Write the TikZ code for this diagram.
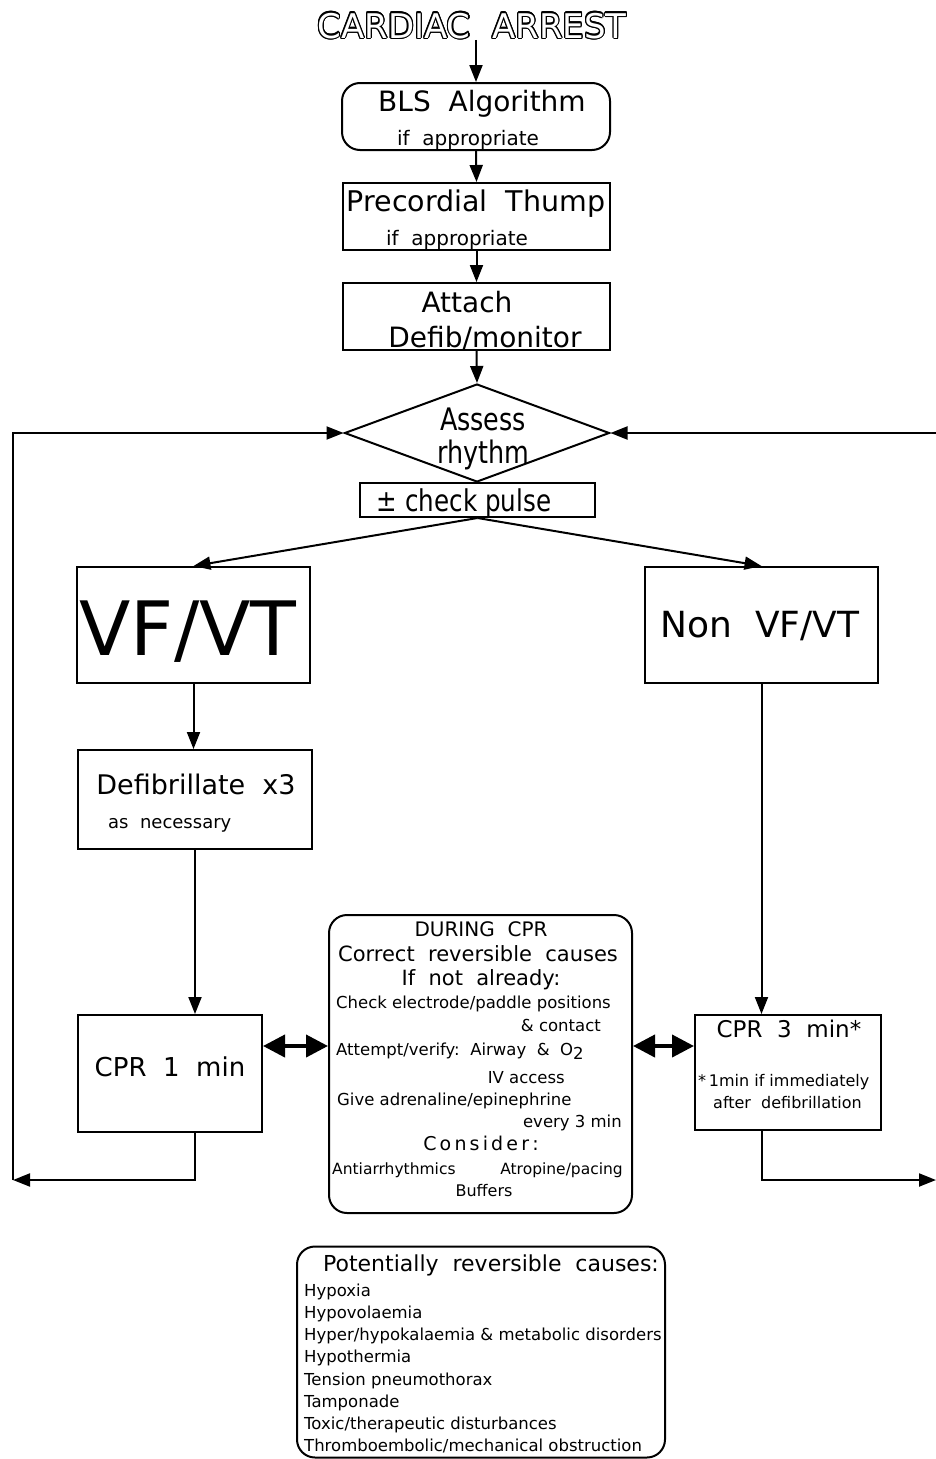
\documentclass[tikz,border=0pt]{standalone}
\usepackage{fontspec}
\setmainfont{DejaVu Sans}
\newfontfamily\narrowfont[FakeStretch=0.82]{DejaVu Sans}
\usepackage{contour}
\contourlength{1.1pt}
\usetikzlibrary{arrows.meta,shapes.geometric,positioning}
\newcommand\fs[1]{\fontsize{#1}{#1}\selectfont}

\begin{document}
\begin{tikzpicture}[x=1pt,y=-1pt]
        \tikzstyle{box}=[draw,line width=2pt,inner sep=0pt]
        \tikzstyle{rbox}=[box,rounded corners=18pt]
        \tikzstyle{txt}=[inner sep=0pt,anchor=base]
        \tikzstyle{ltxt}=[inner sep=0pt,anchor=base west]
        \tikzstyle{rtxt}=[inner sep=0pt,anchor=base east]
        \tikzstyle{flow}=[line width=2pt,-{Triangle[length=17pt,width=13pt]}]
        \tikzstyle{link}=[line width=4pt,{Triangle[length=22pt,width=22pt]}-{Triangle[length=22pt,width=22pt]}]
       \useasboundingbox (0,0) rectangle (936,1459);
       % top of the chain
       \node [txt,font=\fs{34}] (title) at (472,38) {\color{white}\contour{black}{CARDIAC\ \ ARREST}};
       \node [rbox,minimum width=268pt,minimum height=67pt] (bls) at (476,116.5) {};
       \node [txt,font=\fs{28}] (bls1) at (482,111) {BLS\ \ Algorithm};
       \node [txt,font=\fs{20}] (bls2) at (468,145) {if\ \ appropriate};
       \node [box,minimum width=267pt,minimum height=67pt] (thump) at (476.5,216.5) {};
       \node [txt,font=\fs{28.5}] (thump1) at (476,211) {Precordial\ \ Thump};
       \node [txt,font=\fs{20}] (thump2) at (457,245) {if\ \ appropriate};
       \node [box,minimum width=267pt,minimum height=67pt] (attach) at (476.5,316.5) {};
       \node [txt,font=\fs{28}] (attach1) at (467,312) {Attach};
       \node [txt,font=\fs{28}] (attach2) at (485,347) {Defib/monitor};
       \node [diamond,box,minimum width=265pt,minimum height=98pt] (assess) at (477,433) {};
       \node [txt,font=\narrowfont\fs{31}] (assess1) at (483,430) {Assess};
       \node [txt,font=\narrowfont\fs{31}] (assess2) at (483,463) {rhythm};
       \node [box,minimum width=235pt,minimum height=34pt] (pulse) at (477.5,500) {};
       \node [txt,font=\narrowfont\fs{30}] (pulse1) at (464,511) {± check pulse};
       % two branches
       \node [box,minimum width=233pt,minimum height=116pt] (vf) at (193.5,625) {};
       \node [txt,font=\fs{75}] (vf1) at (188,655) {VF/VT};
       \node [box,minimum width=233pt,minimum height=116pt] (nonvf) at (761.5,625) {};
       \node [txt,font=\fs{36}] (nonvf1) at (760,637) {Non\ \ VF/VT};
       \node [box,minimum width=234pt,minimum height=99pt] (defib) at (195,799.5) {};
       \node [txt,font=\fs{27}] (defib1) at (196,794) {Defibrillate\ \ x3};
       \node [ltxt,font=\fs{18}] (defib2) at (108,828) {as\ \ necessary};
       \node [box,minimum width=184pt,minimum height=117pt] (cpr1) at (170,1073.5) {};
       \node [txt,font=\fs{26}] (cpr1t) at (170,1076) {CPR\ \ 1\ \ min};
       \node [box,minimum width=186pt,minimum height=115pt] (cpr3) at (788,1072.5) {};
       \node [txt,font=\fs{23}] (cpr3a) at (789,1037) {CPR\ \ 3\ \ min*};
       \node [ltxt,font=\fs{16}] (cpr3b) at (698,1086) {*\,1min if immediately};
       \node [ltxt,font=\fs{16}] (cpr3c) at (713,1108) {after\ \ defibrillation};
       % during CPR
       \node [rbox,minimum width=303pt,minimum height=298pt] (during) at (480.5,1064) {};
       \node [txt,font=\fs{20}] (dur1) at (481,936) {DURING\ \ CPR};
       \node [txt,font=\fs{21}] (dur2) at (478,961) {Correct\ \ reversible\ \ causes};
       \node [txt,font=\fs{21}] (dur3) at (481,985) {If\ \ not\ \ already:};
       \node [ltxt,font=\fs{16.5}] (dur4) at (336,1008) {Check electrode/paddle positions};
       \node [rtxt,font=\fs{16.5}] (dur5) at (601,1031) {\& contact};
       \node [ltxt,font=\fs{16.5}] (dur6) at (336,1055) {Attempt/verify:\ \ Airway\ \ \&\ \ O\raisebox{-4pt}{2}};
       \node [rtxt,font=\fs{16.5}] (dur7) at (565,1083) {IV access};
       \node [ltxt,font=\fs{16.5}] (dur8) at (337,1105) {Give adrenaline/epinephrine};
       \node [rtxt,font=\fs{16.5}] (dur9) at (622,1127) {every 3 min};
       \node [txt,font=\fs{19}] (dur10) at (481,1150) {C\,o\,n\,s\,i\,d\,e\,r\,:};
       \node [ltxt,font=\fs{15.5}] (dur11) at (332,1174) {Antiarrhythmics};
       \node [rtxt,font=\fs{15.5}] (dur12) at (623,1174) {Atropine/pacing};
       \node [txt,font=\fs{16}] (dur13) at (484,1196) {Buffers};
       % reversible causes list
       \node [rbox,minimum width=368pt,minimum height=211pt] (causes) at (481,1352) {};
       \node [txt,font=\fs{22}] (causes0) at (491,1271) {Potentially\ \ reversible\ \ causes:};
       \foreach \item [count=\i] in {Hypoxia,Hypovolaemia,Hyper/hypokalaemia \& metabolic disorders,Hypothermia,Tension pneumothorax,Tamponade,Toxic/therapeutic disturbances,Thromboembolic/mechanical obstruction}
         \node [ltxt,font=\fs{16.5}] (causes\i) at (304,1274+22.2*\i) {\item};
       % loop ends
       \coordinate (lb) at (13,1180);
       \coordinate (rb) at (936,1180);
       \coordinate (rt) at (936,433);
       % connectors
       \draw [flow] (title.south -| bls.north) -- (bls.north);
       \draw [flow] (bls.south) -- (thump.north);
       \draw [flow] (thump.south) -- (attach.north);
       \draw [flow] (attach.south) -- (assess.north);
       \draw [flow] (pulse.south) -- (vf.north);
       \draw [flow] (pulse.south) -- (nonvf.north);
       \draw [flow] (vf.south) -- (vf.south |- defib.north);
       \draw [flow] (defib.south) -- (defib.south |- cpr1.north);
       \draw [flow] (nonvf.south) -- (nonvf.south |- cpr3.north);
       \draw [flow] (defib.south |- cpr1.south) |- (lb);
       \draw [flow] (lb) |- (assess.west);
       \draw [flow] (nonvf.south |- cpr3.south) |- (rb);
       \draw [flow] (rt) -- (assess.east);
       \draw [link] ([yshift=-32pt]cpr1.north east) -- ([yshift=-32pt]cpr1.north east -| during.west);
       \draw [link] ([yshift=-32pt]cpr3.north west -| during.east) -- ([yshift=-32pt]cpr3.north west);
\end{tikzpicture}
\end{document}
